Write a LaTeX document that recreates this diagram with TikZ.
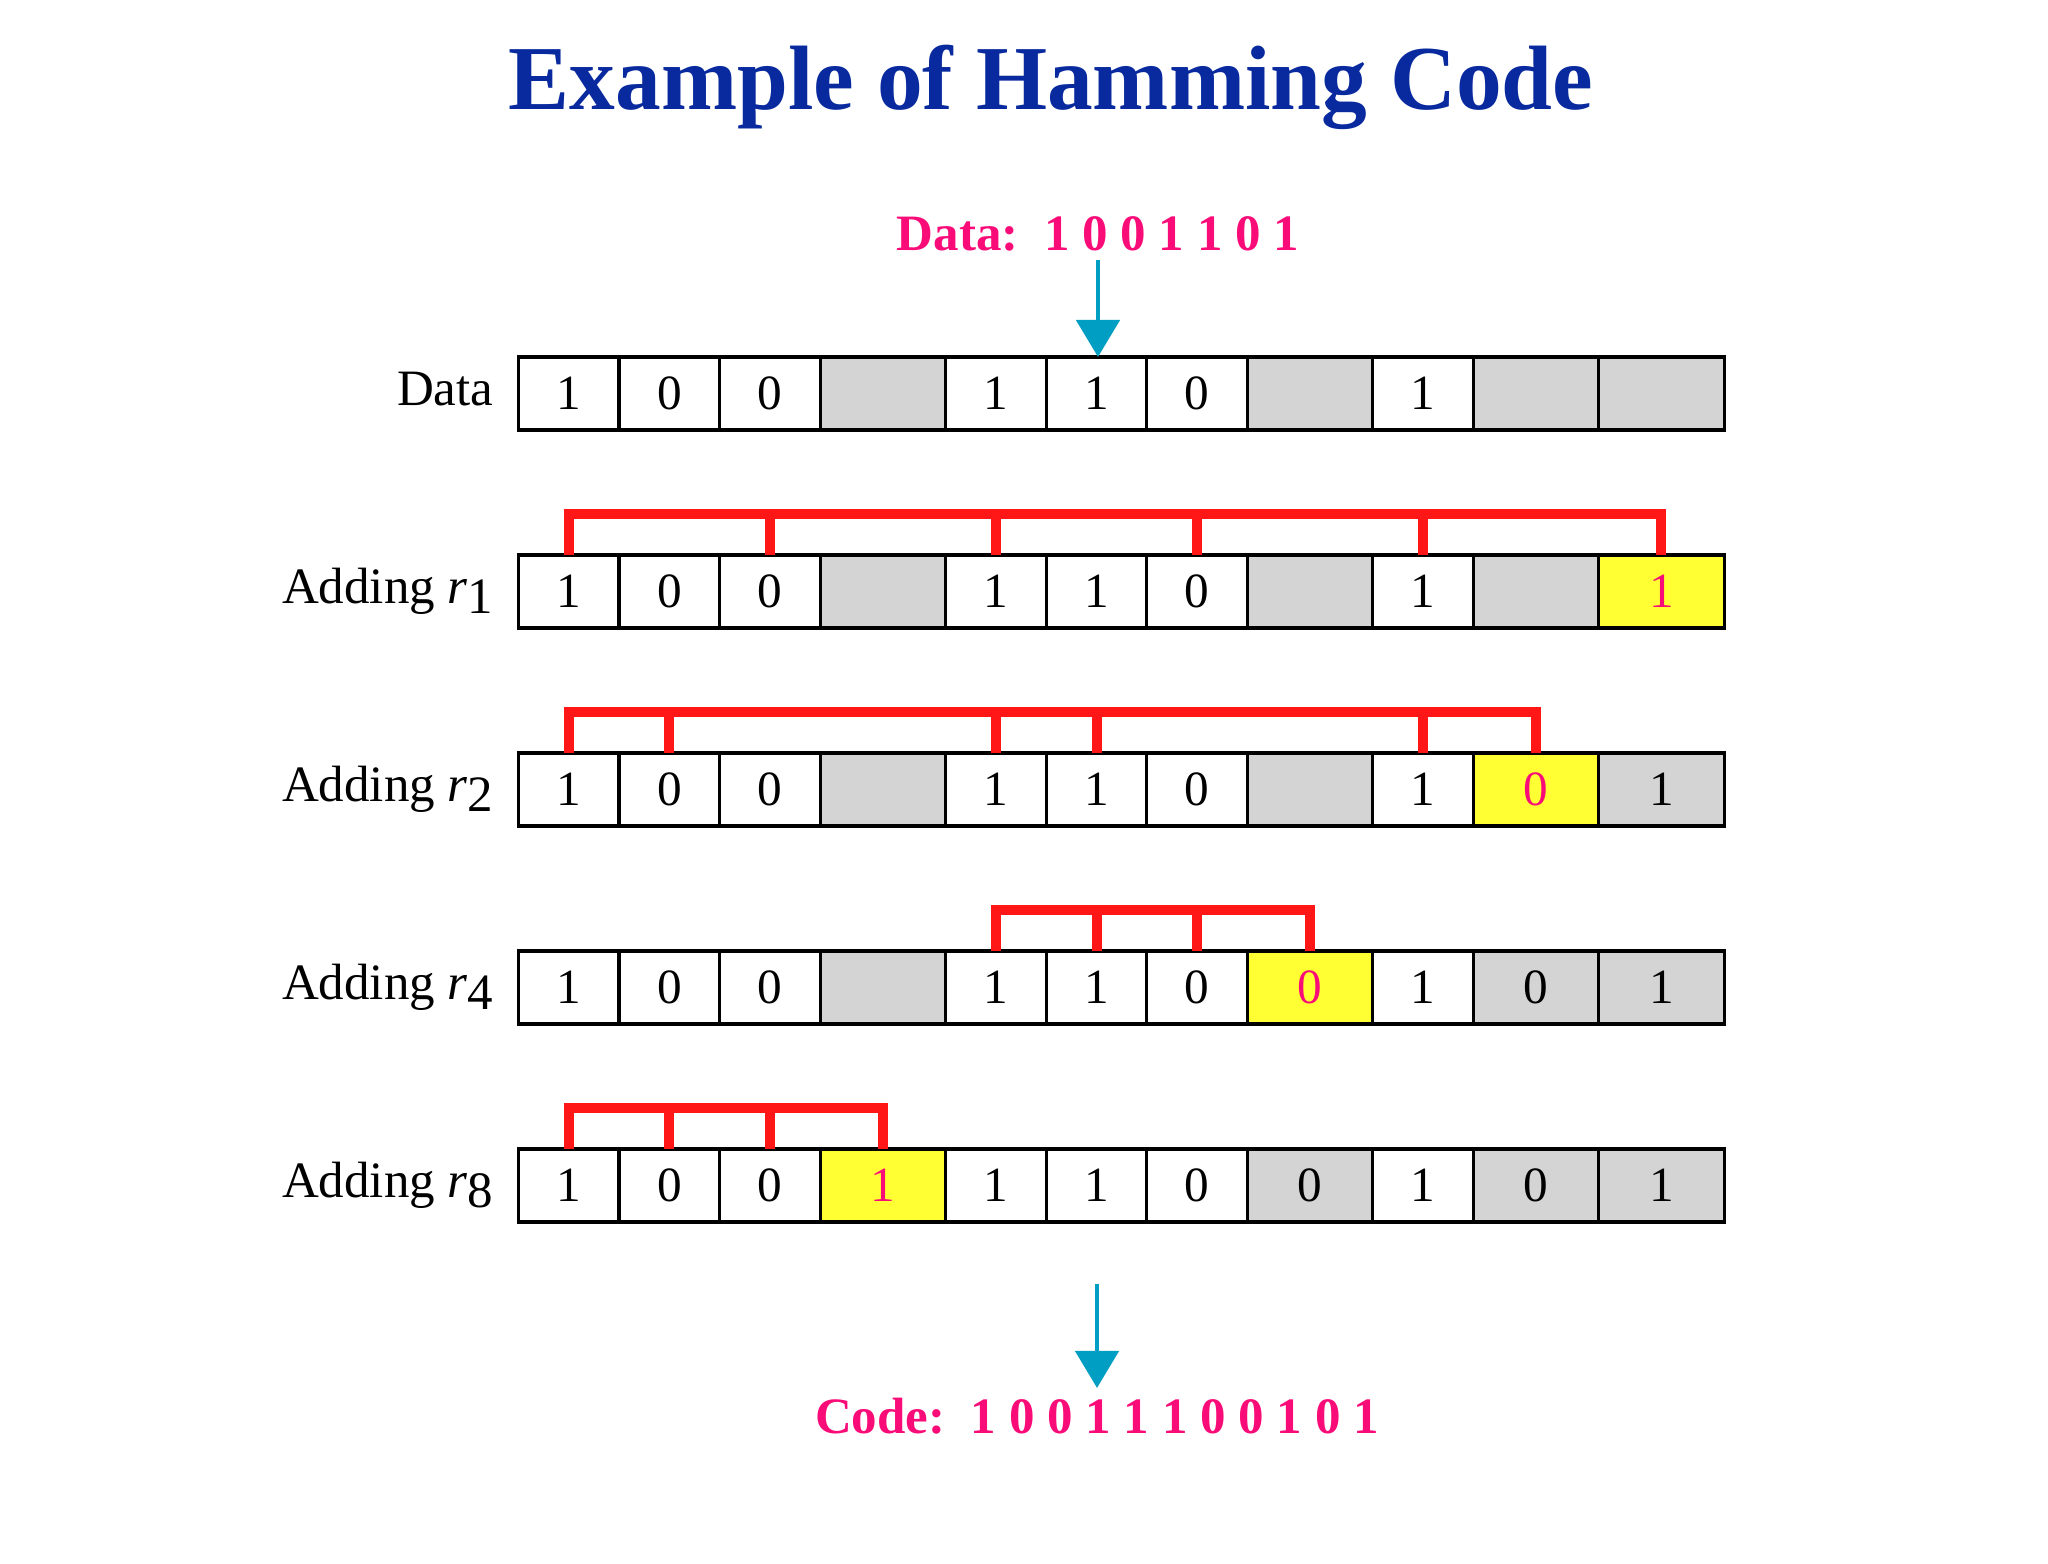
\documentclass[tikz,border=0pt]{standalone}
\usepackage{fontspec}
\setmainfont{Liberation Serif}
\usetikzlibrary{arrows.meta}
\definecolor{titleblue}{RGB}{8,42,158}
\definecolor{pink}{RGB}{250,12,120}
\definecolor{arrowteal}{RGB}{0,158,194}
\definecolor{brkred}{RGB}{255,22,22}
\definecolor{hilite}{RGB}{255,255,51}
\definecolor{pargray}{RGB}{212,212,212}

\begin{document}
\begin{tikzpicture}[
        x=0.01cm, y=0.01cm,
        bit/.style={draw, line width=0.9pt, fill=white, inner sep=0, outer sep=0,
          minimum width=1.006cm, minimum height=0.73cm, font=\fontsize{14}{16}\selectfont},
        par/.style={bit, fill=pargray, minimum width=1.254cm},
        new/.style={par, fill=hilite, text=pink},
        lbl/.style={anchor=base east, inner sep=0, font=\fontsize{14.5}{17}\selectfont},
        txt/.style={anchor=base, inner sep=0.09cm, text=pink, font=\bfseries\fontsize{14.5}{17}\selectfont},
        brk/.style={draw=brkred, line width=2.85pt},
        flow/.style={draw=arrowteal, line width=1.4pt, -{Triangle[width=0.43cm, length=0.37cm]}}]

      \useasboundingbox (0,0) rectangle (2048,-1563);

      \node[anchor=base, inner sep=0, text=titleblue, font=\bfseries\fontsize{26}{30}\selectfont]
        (title) at (1051,-109) {Example of Hamming Code};

      \node[txt] (datatxt) at (1098,-250) {Data:\ \ 1 0 0 1 1 0 1};

      % rows of bits
      \foreach \c/\x/\s/\v in {1/568.8/bit/1, 2/669.4/bit/0, 3/770/bit/0, 4/883/par/{}, 5/995.9/bit/1,
          6/1096.5/bit/1, 7/1197/bit/0, 8/1310/par/{}, 9/1423/bit/1, 10/1536/par/{}, 11/1661.4/par/{}}
        \node[\s] (data\c) at (\x,-393.5) {\v};
      \foreach \c/\x/\s/\v in {1/568.8/bit/1, 2/669.4/bit/0, 3/770/bit/0, 4/883/par/{}, 5/995.9/bit/1,
          6/1096.5/bit/1, 7/1197/bit/0, 8/1310/par/{}, 9/1423/bit/1, 10/1536/par/{}, 11/1661.4/new/1}
        \node[\s] (one\c) at (\x,-591.5) {\v};
      \foreach \c/\x/\s/\v in {1/568.8/bit/1, 2/669.4/bit/0, 3/770/bit/0, 4/883/par/{}, 5/995.9/bit/1,
          6/1096.5/bit/1, 7/1197/bit/0, 8/1310/par/{}, 9/1423/bit/1, 10/1536/new/0, 11/1661.4/par/1}
        \node[\s] (two\c) at (\x,-789.5) {\v};
      \foreach \c/\x/\s/\v in {1/568.8/bit/1, 2/669.4/bit/0, 3/770/bit/0, 4/883/par/{}, 5/995.9/bit/1,
          6/1096.5/bit/1, 7/1197/bit/0, 8/1310/new/0, 9/1423/bit/1, 10/1536/par/0, 11/1661.4/par/1}
        \node[\s] (four\c) at (\x,-987.5) {\v};
      \foreach \c/\x/\s/\v in {1/568.8/bit/1, 2/669.4/bit/0, 3/770/bit/0, 4/883/new/1, 5/995.9/bit/1,
          6/1096.5/bit/1, 7/1197/bit/0, 8/1310/par/0, 9/1423/bit/1, 10/1536/par/0, 11/1661.4/par/1}
        \node[\s] (eight\c) at (\x,-1185.5) {\v};

      % row labels
      \node[lbl] (ldata) at (494,-405.5) {Data};
      \node[lbl] (lone) at (494,-603.5) {Adding \textit{r}\raisebox{-0.2em}{1}};
      \node[lbl] (ltwo) at (494,-801.5) {Adding \textit{r}\raisebox{-0.2em}{2}};
      \node[lbl] (lfour) at (494,-999.5) {Adding \textit{r}\raisebox{-0.2em}{4}};
      \node[lbl] (leight) at (494,-1197.5) {Adding \textit{r}\raisebox{-0.2em}{8}};

      % parity brackets
      \foreach \r/\a/\b/\m in {one/1/11/{3,5,7,9}, two/1/10/{2,5,6,9}, four/5/8/{6,7}, eight/1/4/{2,3}} {
        \draw[brk] (\r\a.north) -- ++(0,41) -| (\r\b.north);
        \foreach \t in \m
          \draw[brk] (\r\t.north) -- ++(0,41);
      }

      \node[txt] (code) at (1097,-1433) {Code:\ \ 1 0 0 1 1 1 0 0 1 0 1};

      \coordinate (dout) at (1097,-1284);
      \draw[flow] (datatxt.south) -- (datatxt.south |- data6.north);
      \draw[flow] (dout) -- (code.north);

    \end{tikzpicture}
\end{document}
